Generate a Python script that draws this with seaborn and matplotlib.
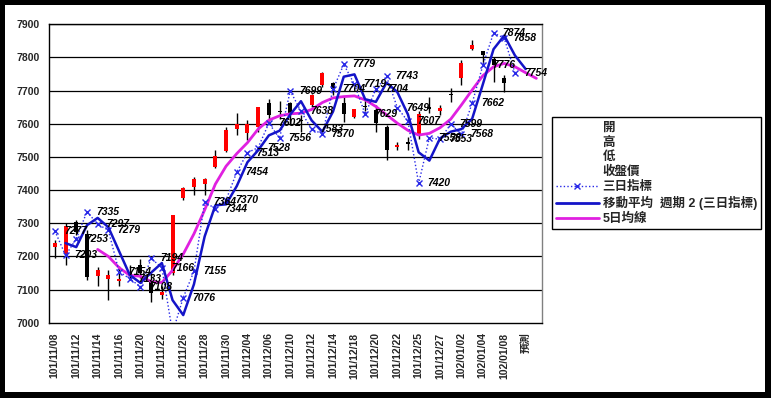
import matplotlib
matplotlib.use("Agg")
import matplotlib.pyplot as plt
import seaborn as sns
import pandas as pd
from matplotlib.lines import Line2D
from matplotlib.patches import Rectangle
from matplotlib.ticker import FixedLocator, NullFormatter

# ---------------- data ----------------
categories = ['101/11/08','101/11/09','101/11/12','101/11/13','101/11/14','101/11/15','101/11/16',
              '101/11/19','101/11/20','101/11/21','101/11/22','101/11/23','101/11/26','101/11/27',
              '101/11/28','101/11/29','101/11/30','101/12/03','101/12/04','101/12/05','101/12/06',
              '101/12/07','101/12/10','101/12/11','101/12/12','101/12/13','101/12/14','101/12/17',
              '101/12/18','101/12/19','101/12/20','101/12/21','101/12/22','101/12/24','101/12/25',
              '101/12/26','101/12/27','101/12/28','102/01/02','102/01/03','102/01/04','102/01/07',
              '102/01/08','102/01/09','預測','']

opens  = [7229,7208,7305,7268,7141,7131,7127,7152,7174,7124,7085,7150,7375,7410,7418,7470,7519,7583,
          7573,7591,7664,7640,7662,7612,7657,7717,7722,7662,7621,7652,7642,7591,7530,7545,7562,7650,
          7637,7690,7737,7825,7818,7795,7737]
highs  = [7249,7300,7310,7280,7169,7159,7170,7175,7191,7149,7110,7325,7408,7440,7437,7521,7591,7632,
          7611,7652,7674,7670,7667,7625,7690,7757,7727,7680,7646,7672,7657,7596,7546,7561,7640,7682,
          7657,7707,7792,7853,7820,7802,7747]
lows   = [7194,7174,7265,7128,7112,7068,7112,7130,7134,7063,7070,7145,7370,7385,7385,7466,7516,7566,
          7551,7576,7608,7615,7596,7575,7650,7712,7687,7604,7618,7640,7576,7491,7521,7521,7555,7632,
          7627,7667,7717,7823,7777,7727,7697]
closes = [7241,7292,7275,7137,7159,7144,7131,7144,7149,7089,7092,7325,7405,7433,7434,7503,7581,7598,
          7598,7650,7627,7636,7627,7608,7687,7754,7704,7630,7644,7650,7603,7521,7535,7540,7630,7645,
          7647,7688,7782,7838,7808,7778,7724]

# 三日指標 (index 0..43)
index3 = [7277,7203,7253,7335,7297,7279,7154,7133,7108,7194,7166,6970,7076,7155,7364,7344,7370,7454,
          7513,7528,7602,7556,7699,7638,7583,7570,7704,7779,7719,7629,7704,7743,7649,7607,7420,7558,
          7553,7599,7568,7662,7776,7874,7858,7754]
# 移動平均 週期2 (index 1..44)
ma2_start = 1
ma2 = [7240,7228,7294,7316,7288,7216,7144,7120,7151,7180,7068,7023,7116,7260,7354,7357,7412,7484,
       7520,7565,7579,7628,7668,7610,7576,7637,7742,7749,7674,7666,7724,7696,7628,7514,7489,7556,
       7576,7584,7615,7719,7825,7866,7806,7765]
# 5日均線 (index 4..45)
ma5_start = 4
ma5 = [7221,7200,7166,7143,7140,7124,7121,7158,7207,7268,7340,7418,7472,7510,7543,7584,7611,7624,
       7630,7632,7643,7664,7678,7682,7684,7672,7652,7627,7602,7580,7566,7571,7588,7614,7657,7702,
       7745,7772,7782,7772,7754,7737]

yticks = [7000,7100,7200,7300,7400,7500,7600,7700,7800,7900]

legend_labels = ['開', '高', '低', '收盤價', '三日指標', '移動平均  週期 2 (三日指標)', '5日均線']

# ---------------- style ----------------
sns.set_style("white")
plt.rcParams['font.family'] = ['Liberation Sans', 'Noto Sans CJK TC', 'DejaVu Sans']

W, H = 771, 398
fig = plt.figure(figsize=(W / 100, H / 100), dpi=100)
fig.patch.set_facecolor('black')
fig.add_artist(Rectangle((5 / W, 6 / H), 760 / W, 387 / H, transform=fig.transFigure,
                         facecolor='white', edgecolor='none', zorder=0))

L, R, T, B = 49.5, 541.7, 24.3, 322.7
ax = fig.add_axes([L / W, 1 - B / H, (R - L) / W, (B - T) / H])
ax.set_facecolor('white')

n = len(categories)
ax.set_xlim(-0.5, n - 0.5)
ax.set_ylim(7000, 7900)

# gridlines
for v in yticks[1:]:
    ax.axhline(v, color='black', lw=0.9, zorder=1)

# candles
for i, (o, h, l, c) in enumerate(zip(opens, highs, lows, closes)):
    col = '#FF0000' if c > o else '#000000'
    ax.vlines(i, l, h, color='black', lw=1, zorder=2)
    hgt = max(abs(c - o), 3)
    ax.bar(i, hgt, bottom=min(o, c), width=0.38, color=col, edgecolor='none', zorder=3)

# lines
df3 = pd.DataFrame({'x': list(range(len(index3))), 'y': index3})
dfm2 = pd.DataFrame({'x': list(range(ma2_start, ma2_start + len(ma2))), 'y': ma2})
dfm5 = pd.DataFrame({'x': list(range(ma5_start, ma5_start + len(ma5))), 'y': ma5})

sns.lineplot(data=dfm5, x='x', y='y', ax=ax, color='#E020E0', lw=2, legend=False, zorder=4)
sns.lineplot(data=df3, x='x', y='y', ax=ax, color='#2828E8', lw=1, linestyle=(0, (1, 1.6)),
             marker='x', markersize=5, markeredgewidth=1, markeredgecolor='#2828E8',
             legend=False, zorder=5)
sns.lineplot(data=dfm2, x='x', y='y', ax=ax, color='#1414C8', lw=1.8, legend=False, zorder=6)

# data labels for 三日指標
for i, v in enumerate(index3):
    ax.annotate(str(v), (i, v), xytext=(6.5, 0), textcoords='offset points', ha='left',
                va='center', fontsize=7.5, fontweight='bold', style='italic', color='black',
                zorder=7)

# axes styling
ax.set_xlabel('')
ax.set_ylabel('')
ax.set_yticks(yticks)
ax.set_yticklabels([str(v) for v in yticks], fontsize=7.5, fontweight='bold')
ax.tick_params(axis='y', direction='out', length=4, width=1, color='black', pad=3)

major = list(range(0, n, 2))
ax.set_xticks(major)
ax.set_xticklabels([categories[i] for i in major], rotation=90, fontsize=7.5,
                   fontweight='bold', va='top', ha='center')
ax.tick_params(axis='x', which='major', length=0, pad=7)
ax.xaxis.set_minor_locator(FixedLocator([k + 0.5 for k in range(-1, n)]))
ax.xaxis.set_minor_formatter(NullFormatter())
ax.tick_params(axis='x', which='minor', direction='out', length=3, width=1, color='black')

for s in ['left', 'bottom', 'top']:
    ax.spines[s].set_color('black')
    ax.spines[s].set_linewidth(1)
ax.spines['right'].set_color('#808080')
ax.spines['right'].set_linewidth(1)
ax.grid(False)

# legend
def blank():
    return Line2D([0, 1], [0, 0], color='white', alpha=0.0, lw=1)

handles = [blank(), blank(), blank(), blank(),
           Line2D([0, 1], [0, 0], color='#2828E8', lw=1, linestyle=(0, (1, 1.6)), marker='x',
                  markersize=5, markeredgewidth=1),
           Line2D([0, 1], [0, 0], color='#1414C8', lw=2),
           Line2D([0, 1], [0, 0], color='#E020E0', lw=2)]
leg = fig.legend(handles, legend_labels, loc='upper left',
                 bbox_to_anchor=(551.7 / W, 1 - 117.3 / H), frameon=True, fancybox=False,
                 edgecolor='black', framealpha=1, fontsize=9, handlelength=3.4,
                 handletextpad=0.33, labelspacing=0.22, borderpad=0.35, borderaxespad=0,
                 numpoints=1)
leg.get_frame().set_linewidth(1)
for t in leg.get_texts():
    t.set_fontweight('bold')

fig.savefig('out.png', dpi=100, facecolor=fig.get_facecolor())
